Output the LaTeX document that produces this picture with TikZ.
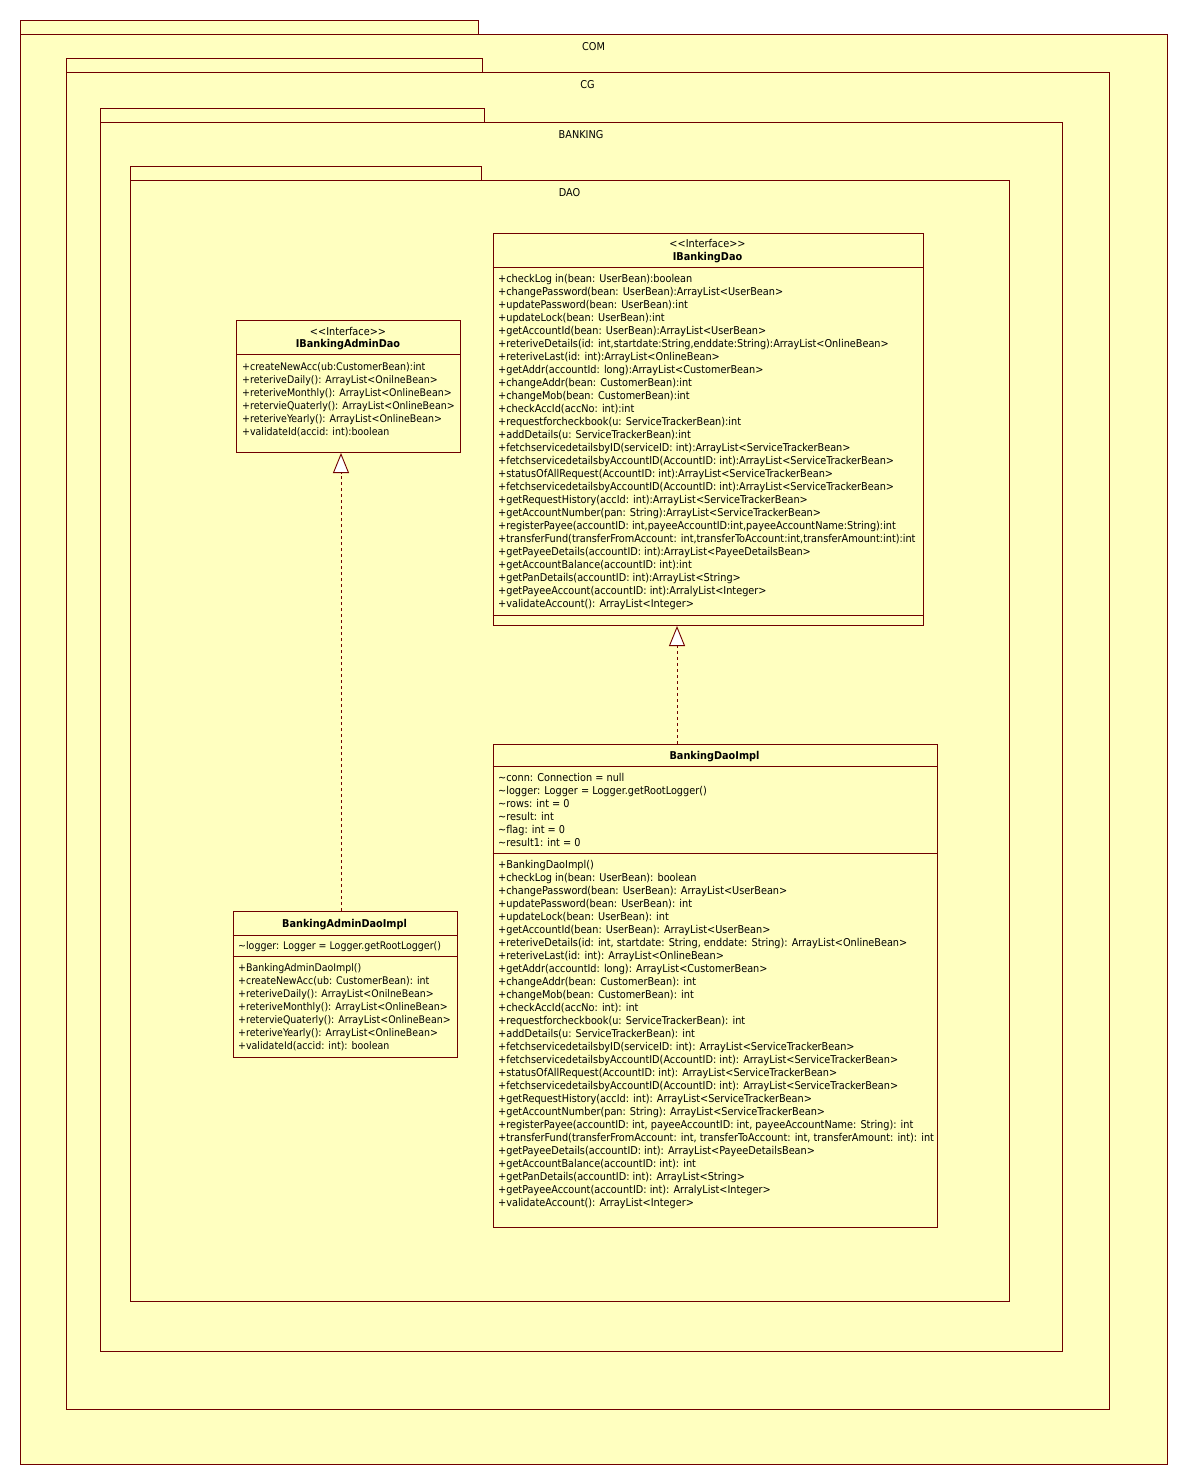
\documentclass[tikz,border=0pt]{standalone}
\usepackage{fontspec}
\setmainfont{DejaVu Sans Condensed}
\usetikzlibrary{arrows.meta}
\definecolor{umlfill}{RGB}{255,255,192}
\definecolor{umlline}{RGB}{112,0,0}
\newcommand\umlsize{\fontsize{10.8}{13}\selectfont}
\newcommand\umlsmall{\fontsize{10.5}{13}\selectfont}

\begin{document}
\begin{tikzpicture}[x=1pt,y=-1pt,
  pkg/.style={draw=umlline, fill=umlfill, line width=1pt},
  txt/.style={inner sep=0pt, text height=10pt, text depth=0.5pt},
  pkglabel/.style={txt, font=\umlsize},
  classbox/.style={draw=umlline, fill=umlfill, line width=1pt, rectangle, inner sep=0pt, anchor=north west},
  sep/.style={draw=umlline, line width=1pt},
  member/.style={txt, anchor=west, font=\umlsize},
  stereo/.style={txt, font=\umlsize},
  title/.style={txt, font=\umlsize\bfseries},
  realize/.style={draw=umlline, line width=0.9pt, dash pattern=on 3pt off 3pt,
    -{Triangle[length=20pt, width=16pt, fill=white, line width=0.9pt]}}
]
\fill[white] (0,0) rectangle (1188,1484);
\useasboundingbox (0,0) rectangle (1188,1484);

% nested packages: tab, body and centred name
\draw[pkg] (20,20) rectangle (478,34);
\draw[pkg] (20,34) rectangle (1167,1464);
\node[pkglabel] (com) at (593.5,46) {COM};

\draw[pkg] (66,58) rectangle (482,72);
\draw[pkg] (66,72) rectangle (1109,1409);
\node[pkglabel] (cg) at (587.5,84) {CG};

\draw[pkg] (100,108) rectangle (484,122);
\draw[pkg] (100,122) rectangle (1062,1351);
\node[pkglabel] (banking) at (581,134) {BANKING};

\draw[pkg] (130,166) rectangle (481,180);
\draw[pkg] (130,180) rectangle (1009,1301);
\node[pkglabel] (dao) at (569.5,192) {DAO};

% interface IBankingDao
\node[classbox, minimum width=430pt, minimum height=392pt] (ibd) at (492.5,233) {};
\draw[sep] ([yshift=-34pt]ibd.north west) -- ([yshift=-34pt]ibd.north east);
\draw[sep] ([yshift=11pt]ibd.south west) -- ([yshift=11pt]ibd.south east);
\node[stereo] (ibd-st) at (707.5,243) {<{}<Interface>{}>};
\node[title] (ibd-t) at (707.5,256) {IBankingDao};
\foreach \t [count=\i] in {
  {+checkLog in(bean: UserBean):boolean},
  {+changePassword(bean: UserBean):ArrayList<UserBean>},
  {+updatePassword(bean: UserBean):int},
  {+updateLock(bean: UserBean):int},
  {+getAccountId(bean: UserBean):ArrayList<UserBean>},
  {+reteriveDetails(id: int,startdate:String,enddate:String):ArrayList<OnlineBean>},
  {+reteriveLast(id: int):ArrayList<OnlineBean>},
  {+getAddr(accountId: long):ArrayList<CustomerBean>},
  {+changeAddr(bean: CustomerBean):int},
  {+changeMob(bean: CustomerBean):int},
  {+checkAccId(accNo: int):int},
  {+requestforcheckbook(u: ServiceTrackerBean):int},
  {+addDetails(u: ServiceTrackerBean):int},
  {+fetchservicedetailsbyID(serviceID: int):ArrayList<ServiceTrackerBean>},
  {+fetchservicedetailsbyAccountID(AccountID: int):ArrayList<ServiceTrackerBean>},
  {+statusOfAllRequest(AccountID: int):ArrayList<ServiceTrackerBean>},
  {+fetchservicedetailsbyAccountID(AccountID: int):ArrayList<ServiceTrackerBean>},
  {+getRequestHistory(accId: int):ArrayList<ServiceTrackerBean>},
  {+getAccountNumber(pan: String):ArrayList<ServiceTrackerBean>},
  {+registerPayee(accountID: int,payeeAccountID:int,payeeAccountName:String):int},
  {+transferFund(transferFromAccount: int,transferToAccount:int,transferAmount:int):int},
  {+getPayeeDetails(accountID: int):ArrayList<PayeeDetailsBean>},
  {+getAccountBalance(accountID: int):int},
  {+getPanDetails(accountID: int):ArrayList<String>},
  {+getPayeeAccount(accountID: int):ArralyList<Integer>},
  {+validateAccount(): ArrayList<Integer>}}
  \node[member] (ibd-m\i) at (498,265+13*\i) {\t};

% interface IBankingAdminDao
\node[classbox, minimum width=224pt, minimum height=132pt] (ibad) at (236,320) {};
\draw[sep] ([yshift=-34.5pt]ibad.north west) -- ([yshift=-34.5pt]ibad.north east);
\node[stereo] (ibad-st) at (348,331) {<{}<Interface>{}>};
\node[title] (ibad-t) at (348,343) {IBankingAdminDao};
\foreach \t [count=\i] in {
  {+createNewAcc(ub:CustomerBean):int},
  {+reteriveDaily(): ArrayList<OnilneBean>},
  {+reteriveMonthly(): ArrayList<OnlineBean>},
  {+retervieQuaterly(): ArrayList<OnlineBean>},
  {+reteriveYearly(): ArrayList<OnlineBean>},
  {+validateId(accid: int):boolean}}
  \node[member, font=\umlsmall] (ibad-m\i) at (242,353+13*\i) {\t};

% class BankingDaoImpl
\node[classbox, minimum width=444pt, minimum height=483pt] (bdi) at (492.5,743.5) {};
\draw[sep] ([yshift=-22.5pt]bdi.north west) -- ([yshift=-22.5pt]bdi.north east);
\draw[sep] ([yshift=-110pt]bdi.north west) -- ([yshift=-110pt]bdi.north east);
\node[title] (bdi-t) at (714.5,755) {BankingDaoImpl};
\foreach \t [count=\i] in {
  {\textasciitilde conn: Connection = null},
  {\textasciitilde logger: Logger = Logger.getRootLogger()},
  {\textasciitilde rows: int = 0},
  {\textasciitilde result: int},
  {\textasciitilde flag: int = 0},
  {\textasciitilde result1: int = 0}}
  \node[member] (bdi-a\i) at (498,764+13*\i) {\t};
\foreach \t [count=\i] in {
  {+BankingDaoImpl()},
  {+checkLog in(bean: UserBean): boolean},
  {+changePassword(bean: UserBean): ArrayList<UserBean>},
  {+updatePassword(bean: UserBean): int},
  {+updateLock(bean: UserBean): int},
  {+getAccountId(bean: UserBean): ArrayList<UserBean>},
  {+reteriveDetails(id: int, startdate: String, enddate: String): ArrayList<OnlineBean>},
  {+reteriveLast(id: int): ArrayList<OnlineBean>},
  {+getAddr(accountId: long): ArrayList<CustomerBean>},
  {+changeAddr(bean: CustomerBean): int},
  {+changeMob(bean: CustomerBean): int},
  {+checkAccId(accNo: int): int},
  {+requestforcheckbook(u: ServiceTrackerBean): int},
  {+addDetails(u: ServiceTrackerBean): int},
  {+fetchservicedetailsbyID(serviceID: int): ArrayList<ServiceTrackerBean>},
  {+fetchservicedetailsbyAccountID(AccountID: int): ArrayList<ServiceTrackerBean>},
  {+statusOfAllRequest(AccountID: int): ArrayList<ServiceTrackerBean>},
  {+fetchservicedetailsbyAccountID(AccountID: int): ArrayList<ServiceTrackerBean>},
  {+getRequestHistory(accId: int): ArrayList<ServiceTrackerBean>},
  {+getAccountNumber(pan: String): ArrayList<ServiceTrackerBean>},
  {+registerPayee(accountID: int, payeeAccountID: int, payeeAccountName: String): int},
  {+transferFund(transferFromAccount: int, transferToAccount: int, transferAmount: int): int},
  {+getPayeeDetails(accountID: int): ArrayList<PayeeDetailsBean>},
  {+getAccountBalance(accountID: int): int},
  {+getPanDetails(accountID: int): ArrayList<String>},
  {+getPayeeAccount(accountID: int): ArralyList<Integer>},
  {+validateAccount(): ArrayList<Integer>}}
  \node[member] (bdi-m\i) at (498,851+13*\i) {\t};

% class BankingAdminDaoImpl
\node[classbox, minimum width=224pt, minimum height=146pt] (badi) at (232.5,911) {};
\draw[sep] ([yshift=-24.5pt]badi.north west) -- ([yshift=-24.5pt]badi.north east);
\draw[sep] ([yshift=-45.5pt]badi.north west) -- ([yshift=-45.5pt]badi.north east);
\node[title] (badi-t) at (344.5,923) {BankingAdminDaoImpl};
\node[member, font=\umlsmall] (badi-a1) at (238,945) {\textasciitilde logger: Logger = Logger.getRootLogger()};
\foreach \t [count=\i] in {
  {+BankingAdminDaoImpl()},
  {+createNewAcc(ub: CustomerBean): int},
  {+reteriveDaily(): ArrayList<OnilneBean>},
  {+reteriveMonthly(): ArrayList<OnlineBean>},
  {+retervieQuaterly(): ArrayList<OnlineBean>},
  {+reteriveYearly(): ArrayList<OnlineBean>},
  {+validateId(accid: int): boolean}}
  \node[member, font=\umlsmall] (badi-m\i) at (238,954+13*\i) {\t};

% realizations
\coordinate (r1) at (341,0);
\coordinate (r2) at (677,0);
\draw[realize] (badi.north -| r1) -- (ibad.south -| r1);
\draw[realize] (bdi.north -| r2) -- (ibd.south -| r2);
\end{tikzpicture}
\end{document}
